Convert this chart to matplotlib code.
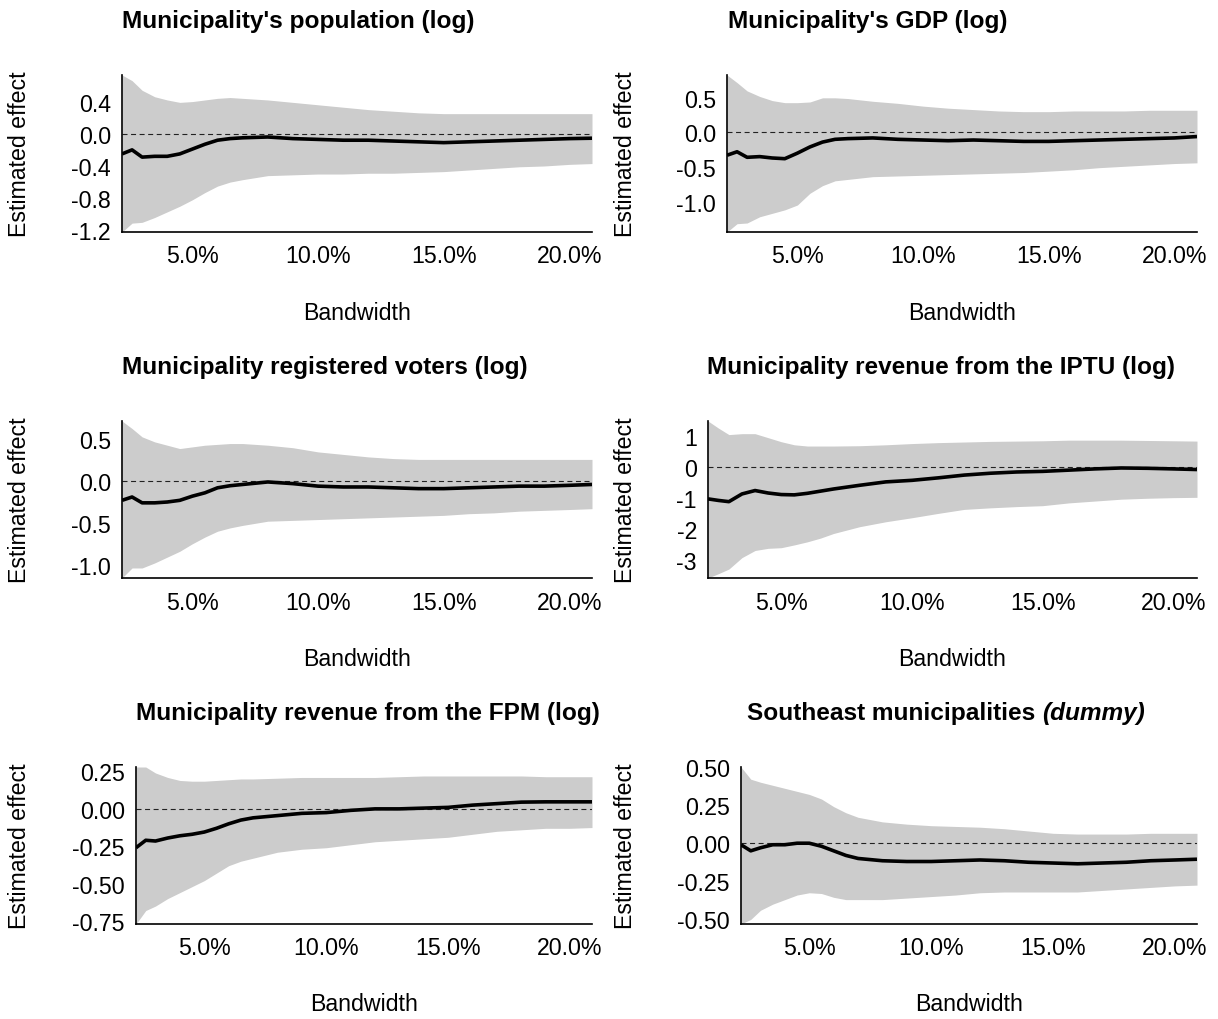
import matplotlib
matplotlib.use("Agg")
import matplotlib.pyplot as plt
from matplotlib.ticker import FixedLocator, FuncFormatter

plt.rcParams["font.family"] = ["Liberation Sans", "DejaVu Sans"]
plt.rcParams["axes.unicode_minus"] = False

W, H = 1218, 1020

# bandwidth (% of vote margin) at which each RD estimate was computed
bandwidth = [2.2, 2.6, 3.0, 3.5, 4.0, 4.5, 5.0, 5.5, 6.0, 6.5, 7.0, 8.0, 9.0,
             10.0, 11.0, 12.0, 13.0, 14.0, 15.0, 16.0, 17.0, 18.0, 19.0, 20.0, 20.9]

pop_est = [-0.25, -0.20, -0.29, -0.28, -0.28, -0.25, -0.19, -0.13, -0.08, -0.06, -0.05, -0.04, -0.06,
           -0.07, -0.08, -0.08, -0.09, -0.10, -0.11, -0.10, -0.09, -0.08, -0.07, -0.06, -0.055]
pop_low = [-1.22, -1.11, -1.10, -1.04, -0.97, -0.90, -0.82, -0.73, -0.65, -0.60, -0.57, -0.52, -0.51,
           -0.50, -0.50, -0.49, -0.49, -0.48, -0.47, -0.45, -0.43, -0.41, -0.40, -0.38, -0.37]
pop_high = [0.73, 0.66, 0.54, 0.46, 0.42, 0.39, 0.40, 0.42, 0.44, 0.45, 0.44, 0.42, 0.39,
            0.36, 0.33, 0.30, 0.28, 0.26, 0.25, 0.25, 0.25, 0.25, 0.25, 0.25, 0.25]

gdp_est = [-0.33, -0.28, -0.36, -0.35, -0.37, -0.38, -0.30, -0.21, -0.14, -0.10, -0.09, -0.08, -0.10,
           -0.11, -0.12, -0.11, -0.12, -0.13, -0.13, -0.12, -0.11, -0.10, -0.09, -0.08, -0.06]
gdp_low = [-1.44, -1.32, -1.31, -1.22, -1.17, -1.12, -1.05, -0.88, -0.77, -0.70, -0.68, -0.64, -0.63,
           -0.62, -0.61, -0.60, -0.59, -0.58, -0.56, -0.54, -0.51, -0.49, -0.47, -0.45, -0.44]
gdp_high = [0.83, 0.72, 0.60, 0.52, 0.46, 0.43, 0.43, 0.44, 0.50, 0.50, 0.49, 0.45, 0.42,
            0.38, 0.35, 0.33, 0.31, 0.30, 0.30, 0.31, 0.31, 0.31, 0.32, 0.32, 0.32]

voters_est = [-0.23, -0.19, -0.26, -0.26, -0.25, -0.23, -0.18, -0.14, -0.08, -0.055, -0.04, -0.01, -0.03,
              -0.06, -0.07, -0.07, -0.08, -0.09, -0.09, -0.08, -0.07, -0.06, -0.06, -0.05, -0.04]
voters_low = [-1.16, -1.04, -1.04, -0.98, -0.91, -0.84, -0.75, -0.67, -0.60, -0.56, -0.53, -0.48, -0.47,
              -0.46, -0.45, -0.44, -0.43, -0.42, -0.41, -0.39, -0.38, -0.36, -0.35, -0.34, -0.33]
voters_high = [0.72, 0.63, 0.53, 0.47, 0.43, 0.39, 0.41, 0.43, 0.44, 0.45, 0.45, 0.43, 0.40,
               0.35, 0.32, 0.29, 0.27, 0.26, 0.26, 0.26, 0.26, 0.26, 0.26, 0.26, 0.26]

iptu_est = [-1.03, -1.08, -1.12, -0.87, -0.76, -0.84, -0.89, -0.90, -0.85, -0.78, -0.71, -0.59, -0.48,
            -0.43, -0.35, -0.26, -0.20, -0.16, -0.14, -0.10, -0.06, -0.03, -0.04, -0.06, -0.08]
iptu_low = [-3.59, -3.45, -3.30, -2.93, -2.70, -2.63, -2.61, -2.52, -2.42, -2.30, -2.15, -1.93, -1.77,
            -1.64, -1.50, -1.37, -1.32, -1.28, -1.25, -1.16, -1.10, -1.04, -1.01, -0.99, -0.98]
iptu_high = [1.49, 1.26, 1.05, 1.08, 1.08, 0.95, 0.82, 0.72, 0.68, 0.68, 0.68, 0.69, 0.72,
             0.76, 0.79, 0.81, 0.83, 0.84, 0.85, 0.87, 0.87, 0.87, 0.86, 0.85, 0.84]

fpm_est = [-0.26, -0.21, -0.215, -0.195, -0.18, -0.17, -0.155, -0.13, -0.10, -0.075, -0.06, -0.045, -0.03,
           -0.025, -0.01, 0.0, 0.0, 0.005, 0.01, 0.025, 0.035, 0.045, 0.047, 0.047, 0.047]
fpm_low = [-0.77, -0.68, -0.65, -0.60, -0.56, -0.52, -0.48, -0.43, -0.38, -0.35, -0.33, -0.29, -0.27,
           -0.26, -0.24, -0.22, -0.21, -0.20, -0.19, -0.17, -0.15, -0.14, -0.13, -0.13, -0.125]
fpm_high = [0.28, 0.28, 0.24, 0.21, 0.19, 0.185, 0.185, 0.19, 0.195, 0.20, 0.20, 0.205, 0.21,
            0.21, 0.21, 0.21, 0.215, 0.22, 0.22, 0.22, 0.22, 0.22, 0.215, 0.215, 0.215]

se_est = [-0.01, -0.05, -0.03, -0.01, -0.01, 0.0, 0.0, -0.02, -0.05, -0.08, -0.10, -0.115, -0.12,
          -0.12, -0.115, -0.11, -0.115, -0.125, -0.13, -0.135, -0.13, -0.125, -0.115, -0.11, -0.105]
se_low = [-0.53, -0.50, -0.44, -0.40, -0.37, -0.34, -0.325, -0.33, -0.355, -0.37, -0.37, -0.37, -0.36,
          -0.35, -0.34, -0.325, -0.32, -0.32, -0.32, -0.32, -0.31, -0.30, -0.29, -0.28, -0.275]
se_high = [0.50, 0.42, 0.40, 0.38, 0.36, 0.34, 0.32, 0.29, 0.24, 0.20, 0.17, 0.14, 0.125,
           0.115, 0.11, 0.105, 0.095, 0.08, 0.065, 0.06, 0.06, 0.06, 0.065, 0.065, 0.065]

x_ticks = [5, 10, 15, 20]

# (title, italic suffix, est, low, high, y ticks, y format, panel box in px: left, right, top, bottom, title x)
panels = [
    ("Municipality's population (log)", None, pop_est, pop_low, pop_high,
     [-1.2, -0.8, -0.4, 0.0, 0.4], "{:.1f}", (122, 592, 76, 233), 122),
    ("Municipality's GDP (log)", None, gdp_est, gdp_low, gdp_high,
     [-1.0, -0.5, 0.0, 0.5], "{:.1f}", (727, 1197, 76, 233), 728),
    ("Municipality registered voters (log)", None, voters_est, voters_low, voters_high,
     [-1.0, -0.5, 0.0, 0.5], "{:.1f}", (122, 592, 422, 579), 122),
    ("Municipality revenue from the IPTU (log)", None, iptu_est, iptu_low, iptu_high,
     [-3, -2, -1, 0, 1], "{:.0f}", (708, 1197, 422, 579), 707),
    ("Municipality revenue from the FPM (log)", None, fpm_est, fpm_low, fpm_high,
     [-0.75, -0.5, -0.25, 0.0, 0.25], "{:.2f}", (136, 592, 768, 925), 136),
    ("Southeast municipalities", "(dummy)", se_est, se_low, se_high,
     [-0.5, -0.25, 0.0, 0.25, 0.5], "{:.2f}", (741, 1197, 768, 925), 747),
]

BAND = "#cccccc"
FS = 16.7
TITLE_FS = 17.6

fig = plt.figure(figsize=(W / 100, H / 100), dpi=100)
renderer = fig.canvas.get_renderer()


def fx(px):
    return px / W


def fy(py):
    return 1 - py / H


for title, suffix, est, low, high, yticks, yfmt, box, title_x in panels:
    left, right, top, bottom = box
    ax = fig.add_axes([fx(left), fy(bottom), (right - left) / W, (bottom - top) / H])

    ax.fill_between(bandwidth, low, high, color=BAND, linewidth=0, zorder=1)
    ax.axhline(0, color="#222222", linewidth=0.8, dashes=(4.5, 3.2), zorder=2)
    ax.plot(bandwidth, est, color="black", linewidth=2.6, solid_capstyle="butt", zorder=3)

    ax.set_xlim(min(bandwidth), max(bandwidth))
    ax.set_ylim(min(low), max(high))

    ax.xaxis.set_major_locator(FixedLocator(x_ticks))
    ax.xaxis.set_major_formatter(FuncFormatter(lambda v, _: f"{v:.1f}%"))
    ax.yaxis.set_major_locator(FixedLocator(yticks))
    ax.yaxis.set_major_formatter(FuncFormatter(lambda v, _, f=yfmt: f.format(v + 0.0)))
    ax.tick_params(length=0, labelsize=FS, colors="black")
    ax.tick_params(axis="x", pad=9)
    ax.tick_params(axis="y", pad=8)

    for side in ("top", "right"):
        ax.spines[side].set_visible(False)
    for side in ("left", "bottom"):
        ax.spines[side].set_linewidth(1.2)
        ax.spines[side].set_color("black")

    t = fig.text(fx(title_x), fy(top - 48), title, fontsize=TITLE_FS, fontweight="bold",
                 ha="left", va="baseline")
    if suffix:
        x1 = t.get_window_extent(renderer).x1
        fig.text((x1 + 7) / W, fy(top - 48), suffix, fontsize=TITLE_FS, fontweight="bold",
                 fontstyle="italic", ha="left", va="baseline")

    fig.text(fx((left + right) / 2), fy(bottom + 80), "Bandwidth", fontsize=FS,
             ha="center", va="center")
    label_x = 20 if left < 600 else 625
    fig.text(fx(label_x), fy((top + bottom) / 2), "Estimated effect", fontsize=FS,
             rotation=90, ha="center", va="center")

fig.savefig("out.png", dpi=100, facecolor="white")
